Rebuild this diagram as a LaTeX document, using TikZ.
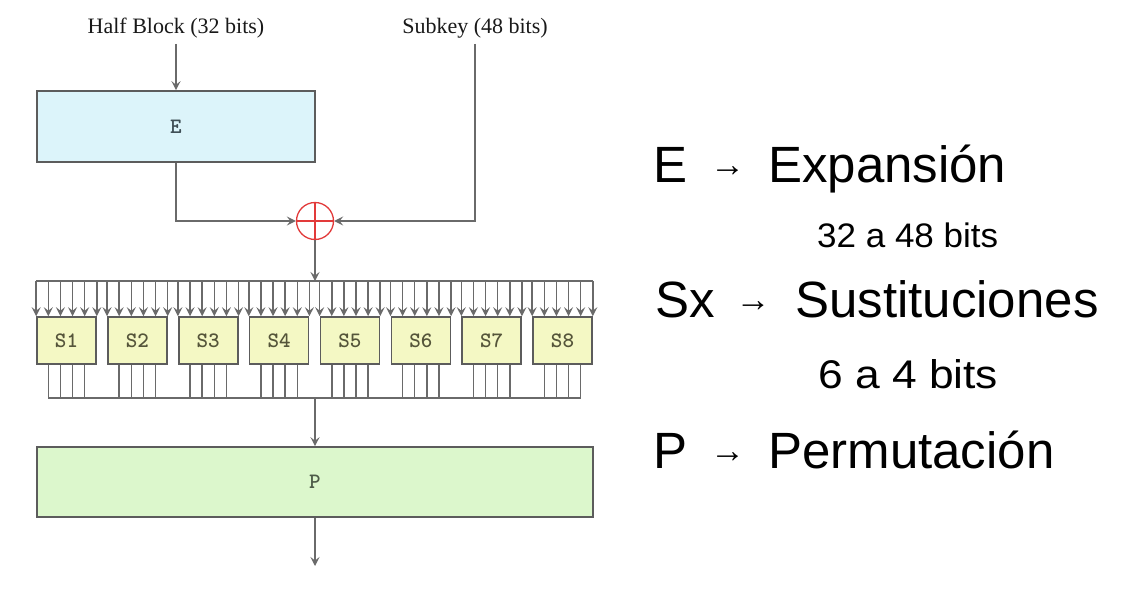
\documentclass[tikz,border=0pt]{standalone}
\usepackage{fontspec}
\usepackage{graphicx}
\setmainfont{Liberation Sans}
\newfontfamily\serifp{Liberation Serif}
\usetikzlibrary{arrows.meta,calc}
\definecolor{efill}{HTML}{DCF4FA}
\definecolor{sfill}{HTML}{F4F8C4}
\definecolor{pfill}{HTML}{DCF7CC}
\definecolor{wire}{HTML}{6A6A6A}
\definecolor{edgec}{HTML}{5C5C5C}
\definecolor{xorred}{HTML}{E23A3A}
\definecolor{etext}{HTML}{3F4F56}
\definecolor{stext}{HTML}{55553A}
\definecolor{ptext}{HTML}{4D5B48}
\tikzset{
  wireline/.style={draw=wire, line width=1.5pt},
  arr/.style={wireline, -{Stealth[length=9pt,width=9pt,inset=3.5pt]}},
  blockbox/.style={draw=edgec, line width=1.6pt, inner sep=0pt, font=\ttfamily\bfseries\fontsize{22}{24}\selectfont},
  toplabel/.style={font=\serifp\fontsize{22}{26}\selectfont, text=black!90, inner sep=0pt},
  bigtext/.style={font=\fontsize{51}{60}\selectfont, inner sep=0pt, anchor=base west},
  arrowglyph/.style={font=\fontsize{35}{40}\selectfont, inner sep=0pt},
  subtext/.style={inner sep=0pt, anchor=base west},
}
\begin{document}
\begin{tikzpicture}[x=1pt,y=-1pt]
\useasboundingbox (0,0) rectangle (1138,600);
\fill[white] (0,0) rectangle (1138,600);

% top labels
\node[toplabel, anchor=base] (hb) at (176,33) {Half Block (32 bits)};
\node[toplabel, anchor=base] (sk) at (475,33) {Subkey (48 bits)};

% E box
\node[blockbox, fill=efill, text=etext, minimum width=278pt, minimum height=71pt] (E) at (176,126.5) {E};

% XOR
\node[draw=xorred, circle, line width=1.3pt, minimum size=37pt, inner sep=0pt, fill=white] (x) at (315,221) {};
\draw[xorred, line width=1.3pt] (x.north) -- (x.south) (x.west) -- (x.east);

\draw[arr, shorten <=6pt] (hb) -- (E);
\draw[arr] (E.south) |- (x.west);
\draw[arr, shorten <=6pt] (sk.south) |- (x.east);

\coordinate (tb) at (315,281);
\coordinate (bb) at (315,398);
\draw[arr] (x.south) -- (tb);

% S boxes
\foreach \i in {1,...,8} {
  \node[blockbox, fill=sfill, text=stext, minimum width=59pt, minimum height=47pt] (s\i) at ({66.5+70.86*(\i-1)},340.5) {S\i};
}
\draw[wireline] (s1.north west |- tb) -- (s8.north east |- tb);
\foreach \i in {1,...,8} {
  \foreach \k in {0,...,5} {
    \coordinate (in\i\k) at ($(s\i.north west)!\k/5!(s\i.north east)$);
    \draw[arr] (in\i\k |- tb) -- (in\i\k);
  }
  \foreach \k in {1,...,4} {
    \coordinate (out\i\k) at ($(s\i.south west)!\k/5!(s\i.south east)$);
    \draw[wireline] (out\i\k) -- (out\i\k |- bb);
  }
}
\draw[wireline] (out11 |- bb) -- (out84 |- bb);

% P box
\node[blockbox, fill=pfill, text=ptext, minimum width=556pt, minimum height=70pt] (P) at (315,482) {P};
\draw[arr] (bb) -- (P);
\coordinate (pout) at (315,566);
\draw[arr] (P) -- (pout);

% right-hand text
\node[bigtext] (t1a) at (653,182) {E};
\node[arrowglyph] (t1b) at (727.5,172) {→};
\node[bigtext] (t1c) at (768,182) {Expansión};
\node[subtext] (t2) at (817,247) {\resizebox{181pt}{\height}{\fontsize{34}{40}\selectfont 32 a 48 bits}};
\node[bigtext] (t3a) at (655,317) {Sx};
\node[arrowglyph] (t3b) at (753,307) {→};
\node[bigtext] (t3c) at (795,317) {Sustituciones};
\node[subtext] (t4) at (818,388) {\resizebox{180pt}{\height}{\fontsize{40}{46}\selectfont 6 a 4 bits}};
\node[bigtext] (t5a) at (653,468) {P};
\node[arrowglyph] (t5b) at (727.5,458) {→};
\node[bigtext] (t5c) at (768,468) {Permutación};
\end{tikzpicture}
\end{document}
